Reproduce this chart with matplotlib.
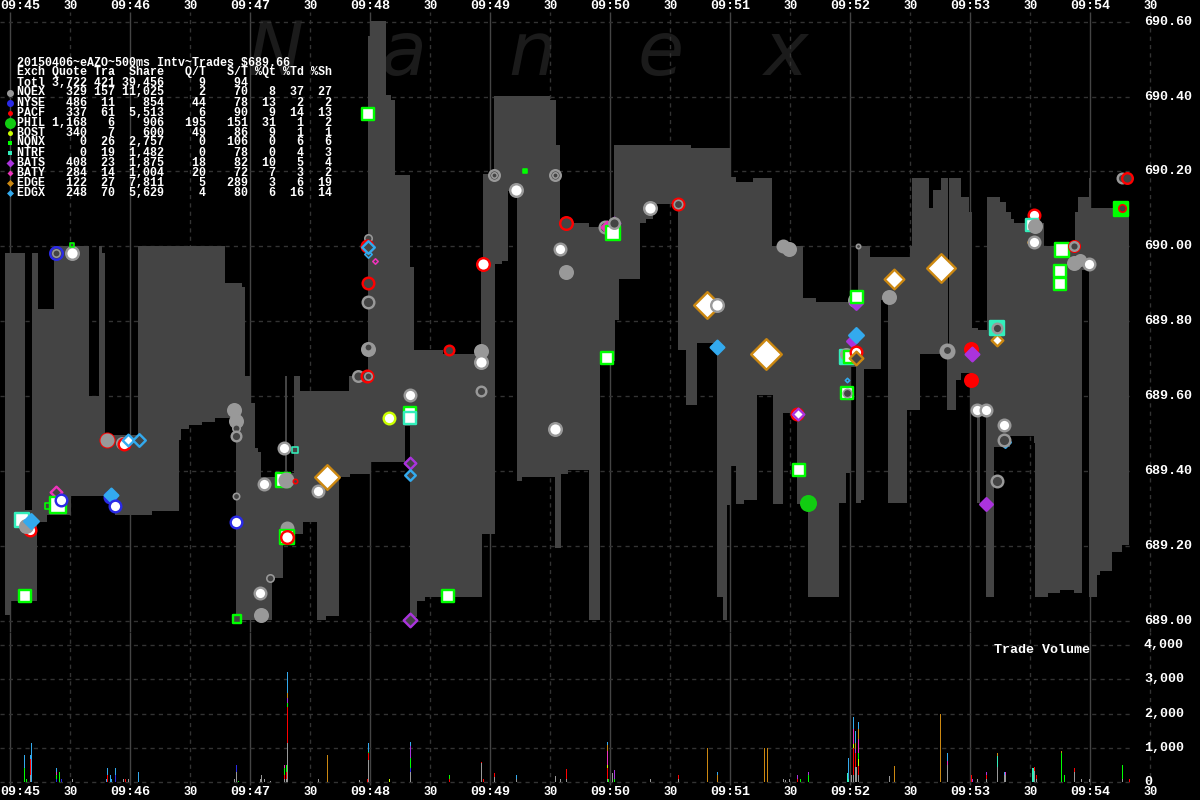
import matplotlib
matplotlib.use("Agg")
import numpy as np
import matplotlib.pyplot as plt

# --- inside quote, seconds after 09:45 ---
ask_sec = [-2.5, 7.5, 11, 14, 22, 39.5, 44.5, 46, 47.5, 64, 107.5, 116, 117.5, 120.5, 122.5, 124, 125.5,
           137.5, 138.5, 142, 145, 169.5, 179, 180, 188, 190.5, 192.5, 200, 202, 216.5, 235.5, 236.5,
           242, 270, 273, 275, 289.5, 300, 302, 340.5, 360.5, 363, 371.5, 381, 396.5, 403, 420, 424,
           430, 450, 451, 459.5, 461.5, 465.5, 469, 469.5, 475.5, 479.5, 481, 484, 488.5, 495, 498,
           500.5, 502, 517, 532.5, 534, 539.5, 540.5, 559.5]
ask_px = [689.983, 689.296, 689.983, 689.833, 690.001, 689.601, 690.001, 689.983, 689.496, 690.001,
          689.903, 689.892, 689.655, 689.582, 689.461, 689.452, 689.385, 689.655, 689.395, 689.655,
          689.614, 689.655, 690.562, 690.601, 690.405, 690.391, 690.19, 689.945, 689.723, 689.713,
          689.953, 690.192, 690.402, 690.391, 690.271, 690.063, 690.053, 690.03, 690.271, 690.264,
          690.184, 690.173, 690.183, 690.001, 689.863, 689.851, 689.884, 690.001, 689.972, 690.001,
          690.183, 690.103, 690.151, 690.183, 689.723, 690.183, 690.133, 690.093, 689.783, 689.777,
          690.133, 690.119, 690.093, 690.073, 690.063, 690.001, 690.093, 690.133, 690.183, 690.103, 690.103]

bid_sec = [-2.5, 0.5, 13.5, 18.5, 30.5, 52.5, 71, 84.5, 85.5, 89.5, 96, 102.5, 113, 131, 136.5, 146.5,
           153.5, 158, 164.5, 170, 180.5, 197.5, 200, 203.5, 207.5, 236, 242.5, 246, 249, 253.5, 256,
           272.5, 275.5, 279, 289.5, 295, 302.5, 304.5, 315, 318, 321.5, 334, 338, 343.5, 353.5, 356.5,
           358.5, 360, 363, 367, 373.5, 381.5, 386.5, 393.5, 399, 414.5, 418, 420, 423, 425.5, 427,
           435.5, 439, 448.5, 455, 468.5, 473, 475.5, 480, 483.5, 485, 488, 492, 500, 512, 512.5, 519,
           525, 532, 536, 539.5, 543.5, 545, 551, 556, 559.5]
bid_px = [689.015, 689.053, 689.265, 689.282, 689.334, 689.282, 689.293, 689.483, 689.512, 689.523,
          689.532, 689.541, 689.002, 689.114, 689.232, 689.264, 689.002, 689.013, 689.385, 689.392,
          689.424, 689.521, 689.01, 689.053, 689.063, 689.231, 689.953, 689.961, 690.149, 689.373,
          689.384, 689.194, 689.393, 689.403, 689.002, 689.695, 689.803, 689.913, 690.063, 690.074,
          690.113, 689.723, 689.575, 689.742, 689.063, 689.002, 689.31, 689.413, 689.312, 689.322,
          689.603, 689.312, 689.555, 689.312, 689.064, 689.314, 689.395, 689.679, 689.314, 689.322,
          689.673, 689.857, 689.314, 689.563, 689.713, 689.563, 689.643, 689.662, 689.563, 689.314,
          689.555, 689.064, 689.465, 689.493, 689.475, 689.064, 689.074, 689.082, 689.074, 689.937,
          689.064, 689.122, 689.134, 689.184, 689.202, 689.202]

# --- trades: time, price, exchange, size, kind (w=white, h=hollow, c=solid) ---
mark_sec = [22.85, 22.85, 30.85, 30.85, 48.35, 48.35, 55.85, 56.85, 58.85, 64.35,
            22.85, 18.85, 23.85, 25.35, 49.85, 50.35, 52.35, 5.85, 9.85, 7.85,
            10.35, 7.35, 111.85, 112.85, 112.85, 112.85, 112.85, 112.85, 136.85, 142.35,
            136.35, 137.85, 142.35, 126.85, 153.85, 158.35, 138.35, 138.35, 138.35, 129.85,
            124.85, 125.35, 113.35, 178.85, 178.35, 178.85, 178.85, 182.1, 178.85, 178.85,
            178.85, 178.85, 173.85, 178.35, 178.85, 189.35, 178.85, 241.85, 241.85, 257.35,
            272.35, 272.35, 252.85, 277.85, 297.35, 298.35, 301.85, 301.35, 301.85, 319.85,
            333.85, 333.85, 274.85, 277.85, 236.35, 386.35, 389.35, 348.35, 353.35, 353.35,
            377.85, 298.35, 219.35, 235.35, 235.35, 235.35, 199.85, 199.85, 199.85, 199.85,
            199.85, 272.35, 218.85, 199.85, 393.35, 393.85, 394.35, 423.85, 422.35, 422.85,
            423.35, 439.35, 441.85, 465.35, 420.85, 422.85, 418.35, 417.85, 419.85, 422.85,
            422.85, 418.35, 418.35, 418.35, 398.85, 468.35, 468.35, 480.35, 480.85, 480.35,
            483.35, 487.85, 496.85, 497.35, 496.85, 493.35, 487.85, 493.35, 493.35, 493.35,
            511.85, 510.85, 512.35, 511.35, 511.85, 525.85, 531.85, 531.85, 531.85, 534.85,
            539.35, 524.85, 524.85, 555.85, 558.35, 555.35, 555.85]
mark_price = [689.982, 689.982, 689.982, 690.004, 689.483, 689.483, 689.475, 689.472, 689.483, 689.483,
              689.344, 689.306, 689.309, 689.322, 689.331, 689.336, 689.306, 689.269, 689.242, 689.253,
              689.266, 689.066, 689.563, 689.533, 689.515, 689.493, 689.333, 689.264, 689.461, 689.456,
              689.376, 689.376, 689.373, 689.365, 689.346, 689.384, 689.248, 689.224, 689.224, 689.114,
              689.074, 689.015, 689.004, 690.022, 690.001, 689.98, 689.998, 689.961, 689.902, 689.851,
              689.726, 689.731, 689.654, 689.654, 689.654, 689.542, 690.354, 690.191, 690.191, 690.201,
              690.191, 690.191, 690.151, 690.063, 690.052, 690.052, 690.063, 690.036, 690.063, 690.103,
              690.113, 690.113, 689.993, 689.932, 689.953, 690.001, 689.993, 689.843, 689.843, 689.731,
              689.712, 689.702, 689.723, 689.72, 689.691, 689.614, 689.603, 689.555, 689.542, 689.421,
              689.389, 689.512, 689.066, 689.002, 689.552, 689.552, 689.403, 690.001, 689.856, 689.849,
              689.865, 689.865, 689.913, 689.942, 689.747, 689.763, 689.704, 689.712, 689.704, 689.718,
              689.702, 689.643, 689.608, 689.608, 689.314, 689.72, 689.723, 689.726, 689.712, 689.643,
              689.563, 689.563, 689.523, 689.477, 689.483, 689.373, 689.312, 689.75, 689.782, 689.782,
              690.084, 690.057, 690.055, 690.012, 690.012, 689.99, 690.001, 690.001, 689.956, 689.964,
              689.953, 689.934, 689.9, 690.183, 690.183, 690.1, 690.103]
mark_exch = ["NYSE", "NQEX", "NQEX", "NQNX", "PACF", "NQEX", "NQEX", "PACF", "EDGX", "EDGX",
             "BATY", "NQNX", "NQNX", "NYSE", "NYSE", "EDGX", "NYSE", "NTRF", "PACF", "NQEX",
             "EDGX", "NQNX", "NQEX", "NQEX", "NQEX", "NQEX", "NQEX", "NYSE", "NQEX", "NTRF",
             "NQNX", "NQEX", "PACF", "NQEX", "NQEX", "EDGE", "NQEX", "NQNX", "PACF", "NQEX",
             "NQEX", "NQEX", "NQNX", "NQEX", "PACF", "EDGX", "EDGX", "BATY", "PACF", "NQEX",
             "NQEX", "NQEX", "NQEX", "PACF", "NQEX", "BOST", "NQNX", "NQEX", "NQEX", "NQNX",
             "NQEX", "NQEX", "NQEX", "PACF", "NQEX", "BATY", "BATS", "NQNX", "NQEX", "NQEX",
             "PACF", "NQEX", "NQEX", "NQEX", "PACF", "NQEX", "NQEX", "EDGE", "NQEX", "EDGX",
             "EDGE", "NQNX", "PACF", "NQEX", "NQEX", "NQEX", "NQEX", "NQNX", "NTRF", "BATS",
             "EDGX", "NQEX", "NQNX", "BATS", "PACF", "BATS", "NQNX", "NQEX", "NQEX", "BATS",
             "NQNX", "NQEX", "EDGE", "EDGE", "BATS", "EDGX", "NTRF", "NQEX", "NQNX", "PACF",
             "EDGE", "EDGX", "NQNX", "NQEX", "PHIL", "NQEX", "NQEX", "PACF", "BATS", "PACF",
             "NQEX", "NQEX", "NQEX", "EDGX", "NQEX", "NQEX", "BATS", "EDGE", "NTRF", "NQEX",
             "PACF", "NTRF", "NQEX", "EDGE", "NQEX", "NQNX", "PACF", "NQEX", "NQEX", "NQEX",
             "NQEX", "NQNX", "NQNX", "NQEX", "PACF", "NQNX", "PACF"]
mark_shares = [196, 64, 196, 25, 225, 169, 144, 169, 169, 196,
               169, 36, 324, 169, 169, 225, 169, 225, 169, 196,
               256, 196, 196, 196, 64, 121, 49, 169, 169, 36,
               225, 225, 25, 169, 169, 676, 169, 225, 196, 64,
               169, 196, 100, 64, 169, 64, 196, 36, 169, 169,
               196, 64, 144, 169, 64, 169, 196, 144, 36, 25,
               144, 36, 196, 196, 169, 169, 169, 225, 144, 196,
               169, 81, 169, 196, 196, 169, 196, 784, 196, 225,
               1024, 196, 121, 196, 196, 121, 169, 196, 196, 169,
               144, 196, 196, 225, 169, 169, 196, 25, 196, 196,
               196, 196, 441, 900, 144, 256, 225, 144, 196, 169,
               225, 25, 196, 81, 256, 225, 81, 196, 225, 196,
               169, 169, 169, 144, 169, 169, 196, 169, 225, 121,
               169, 169, 196, 144, 169, 225, 144, 100, 196, 144,
               169, 196, 196, 121, 144, 225, 64]
mark_kind = ["h", "h", "w", "h", "c", "c", "w", "w", "w", "h",
             "h", "h", "w", "w", "c", "c", "w", "w", "w", "c",
             "c", "w", "c", "c", "h", "h", "h", "w", "w", "h",
             "w", "c", "h", "w", "w", "w", "c", "w", "w", "h",
             "w", "c", "h", "h", "h", "h", "h", "h", "h", "h",
             "c", "h", "h", "h", "h", "w", "w", "h", "h", "c",
             "h", "h", "w", "h", "h", "c", "c", "w", "h", "w",
             "h", "h", "w", "c", "w", "c", "c", "w", "w", "c",
             "w", "w", "h", "c", "w", "h", "w", "w", "w", "h",
             "h", "w", "w", "h", "w", "w", "w", "h", "c", "c",
             "w", "c", "w", "w", "c", "c", "c", "c", "w", "w",
             "h", "h", "w", "h", "c", "c", "h", "c", "c", "c",
             "w", "w", "w", "c", "h", "h", "c", "w", "c", "h",
             "w", "w", "c", "h", "w", "w", "h", "h", "c", "c",
             "w", "w", "w", "h", "h", "c", "h"]

# --- volume per exchange, stacked in the order of exch_names ---
nqex_t = [10, 31, 56.5, 59, 112, 113, 125, 125.5, 127, 130, 137, 138, 138.5, 154, 174.5, 179, 200, 235.5, 242, 253,
          272.5, 275, 278, 298.5, 301, 320, 334, 386.5, 387.5, 389.5, 420.5, 421.5, 422.5, 423, 424, 439.5, 468.5,
          483.5, 488, 493.5, 497, 497.5, 512, 513, 532, 535.5, 539.5, 556]
nqex_v = [214, 100, 100, 100, 100, 300, 100, 200, 100, 20, 100, 100, 1138, 100, 50, 650, 300, 550, 150, 100,
          180, 100, 100, 100, 250, 100, 100, 100, 50, 100, 200, 200, 450, 450, 200, 180, 500,
          100, 100, 450, 200, 200, 330, 100, 300, 100, 100, 80]
nyse_t = [23, 25.5, 52.5, 113, 200]
nyse_v = [100, 100, 200, 200, 100]
pacf_t = [10, 48.5, 57.5, 137, 138, 138.5, 178.5, 179, 219.5, 235.5, 236.5, 242, 278, 298.5, 334, 393.5, 421.5,
          422.5, 424, 480.5, 488, 512, 513, 532, 559.5]
pacf_v = [457, 200, 100, 100, 200, 1050, 100, 200, 100, 30, 100, 120, 280, 300, 100, 100, 800,
          400, 260, 200, 100, 100, 100, 100, 100]
bost_t = [189.5, 298.5, 421.5, 424]
bost_v = [100, 100, 100, 200]
nqnx_t = [7, 8, 23, 24.5, 114, 137, 138, 138.5, 179, 200, 219.5, 299, 302, 395, 399, 424, 525.5, 527, 556]
nqnx_v = [400, 100, 100, 300, 30, 200, 200, 120, 30, 300, 100, 100, 100, 100, 200, 200, 850, 200, 420]
ntrf_t = [418.5, 419, 493.5, 511, 511.5]
ntrf_v = [270, 100, 300, 400, 400]
bats_t = [138.5, 200, 302, 393.5, 399, 422.5, 481, 488]
bats_v = [150, 340, 260, 100, 100, 100, 100, 100]
baty_t = [23, 137, 298.5, 421.5, 424, 468.5, 497.5]
baty_v = [100, 100, 400, 450, 400, 100, 100]
edge_t = [138.5, 158.5, 298.5, 348.5, 353.5, 377, 378.5, 422.5, 424, 442, 465, 493.5, 525.5]
edge_v = [150, 800, 170, 1000, 200, 1000, 1000, 200, 300, 470, 2000, 100, 50]
edgx_t = [7, 10, 10.5, 23, 48, 48.5, 50, 50.5, 52.5, 64, 138.5, 179, 200, 253, 298.5, 353.5, 419, 421.5, 422.5,
          424, 468.5, 497]
edgx_v = [400, 126, 1148, 118, 100, 200, 200, 100, 200, 300, 590, 270, 130, 100, 107, 100, 600, 350, 350,
          200, 250, 100]

# --- exchange summary table ---
exch_names = ["NQEX", "NYSE", "PACF", "PHIL", "BOST", "NQNX", "NTRF", "BATS", "BATY", "EDGE", "EDGX"]
exch_quote = ["329", "486", "337", "1,168", "340", "0", "0", "408", "284", "122", "248"]
exch_trades = ["157", "11", "61", "6", "7", "26", "19", "23", "14", "27", "70"]
exch_shares = ["11,025", "854", "5,513", "906", "600", "2,757", "1,482", "1,875", "1,004", "7,811", "5,629"]
exch_qt = [2, 44, 6, 195, 49, 0, 0, 18, 20, 5, 4]
exch_st = [70, 78, 90, 151, 86, 106, 78, 82, 72, 289, 80]
exch_pct_q = [8, 13, 9, 31, 9, 0, 0, 10, 7, 3, 6]
exch_pct_t = [37, 2, 14, 1, 1, 6, 4, 5, 3, 6, 16]
exch_pct_s = [27, 2, 13, 2, 1, 6, 3, 4, 2, 19, 14]

price_ticks = [689.0, 689.2, 689.4, 689.6, 689.8, 690.0, 690.2, 690.4, 690.6]
vol_ticks = [0, 1000, 2000, 3000, 4000]
minute_labels = ["09:45", "09:46", "09:47", "09:48", "09:49", "09:50", "09:51", "09:52", "09:53", "09:54"]

# styling
exch_color = {"NQEX": "#999999", "NYSE": "#2a2ae6", "PACF": "#ff0000", "PHIL": "#11cc11", "BOST": "#ccff00",
              "NQNX": "#00ff00", "NTRF": "#33eebb", "BATS": "#aa33dd", "BATY": "#ee33bb", "EDGE": "#cc8811",
              "EDGX": "#33aaee"}
exch_marker = {"NQEX": "o", "NYSE": "o", "PACF": "o", "PHIL": "o", "BOST": "o", "NQNX": "s", "NTRF": "s",
               "BATS": "D", "BATY": "D", "EDGE": "D", "EDGX": "D"}
legend_diam = [7, 7, 5, 11, 5, 5, 5, 8, 6, 7, 7]
BAND = "#444444"
DASH = "#333333"
MONO = "Liberation Mono"

fig = plt.figure(figsize=(12, 8), dpi=100, facecolor="black")
ax = fig.add_axes([0, 168 / 800, 1, 632 / 800])
vol = fig.add_axes([0, 0, 1, 168 / 800])
x_range = (-5.15, 594.85)
for a in (ax, vol):
    a.set_facecolor("black")
    a.set_xlim(*x_range)
    a.axis("off")
ax.set_ylim(688.970, 690.658)
vol.set_ylim(-526, 4380)

# grid, under the band
minute_secs = np.arange(len(minute_labels)) * 60
half_secs = minute_secs + 30
ax.vlines(minute_secs, 688.97, 690.625, color=BAND, lw=1, zorder=1)
vol.vlines(minute_secs, -90, 4380, color=BAND, lw=1, zorder=1)
ax.vlines(half_secs, 688.97, 690.625, color=DASH, lw=1, ls=(0, (3, 3)), zorder=1)
vol.vlines(half_secs, -90, 4380, color=DASH, lw=1, ls=(0, (3, 3)), zorder=1)
ax.hlines(price_ticks, x_range[0], 560, color=DASH, lw=1, ls=(0, (3, 3)), zorder=1)
vol.hlines(vol_ticks, x_range[0], 560, color=DASH, lw=1, ls=(0, (3, 3)), zorder=1)

# watermark
for lx, ch in zip([133, 197, 261, 325, 388], "Nanex"):
    ax.text(lx, 690.515, ch, color="#1b1b1b", fontsize=54, style="italic", family="DejaVu Sans",
            ha="center", va="center", zorder=0.5)

# quote band
all_sec = np.unique(np.r_[ask_sec, bid_sec])
ask_i = np.searchsorted(ask_sec, all_sec, side="right") - 1
bid_i = np.searchsorted(bid_sec, all_sec, side="right") - 1
ax.fill_between(all_sec, np.array(bid_px)[bid_i], np.array(ask_px)[ask_i], step="post",
                color=BAND, lw=0, antialiased=False, zorder=2)

# trades
rows = zip(mark_sec, mark_price, mark_exch, mark_shares, mark_kind, strict=True)
for i, (t, p, ex, sh, kind) in enumerate(rows):
    col = exch_color[ex]
    m = exch_marker[ex]
    d = np.sqrt(sh)
    lw_px = 2.4 if d >= 10 else 1.6
    side = max(d - lw_px + 1, 1.5) * 0.72
    size = side ** 2 * (0.5 if m == "D" else 1)
    face = {"w": "white", "h": BAND, "c": col}[kind]
    ax.scatter([t], [p], s=size, marker=m, facecolor=face, edgecolor=col, linewidths=lw_px * 0.72,
               zorder=3 + i * 0.001)

# volume stacks
stack = [("NQEX", nqex_t, nqex_v), ("NYSE", nyse_t, nyse_v), ("PACF", pacf_t, pacf_v), ("BOST", bost_t, bost_v),
         ("NQNX", nqnx_t, nqnx_v), ("NTRF", ntrf_t, ntrf_v), ("BATS", bats_t, bats_v), ("BATY", baty_t, baty_v),
         ("EDGE", edge_t, edge_v), ("EDGX", edgx_t, edgx_v)]
tops = {}
for ex, ts, vs in stack:
    for t, v in zip(ts, vs, strict=True):
        base = tops.get(t, 0)
        vol.bar(t, v, bottom=base, width=0.5, color=exch_color[ex], lw=0, antialiased=False, zorder=3)
        tops[t] = base + v

# axis labels
for ypos in (6, 792):
    fy = 1 - ypos / 800
    for k, lab in enumerate(minute_labels):
        px = 10.3 + minute_secs[k] * 2
        if k == 0:
            fig.text(0, fy, lab, color="white", family=MONO, fontsize=9.6, fontweight="bold", ha="left", va="center")
        else:
            fig.text(px / 1200, fy, lab, color="white", family=MONO, fontsize=9.6, fontweight="bold",
                     ha="center", va="center")
        fig.text((px + 60) / 1200, fy, "30", color="white", family=MONO, fontsize=8.6, fontweight="bold",
                 ha="center", va="center")

for p in price_ticks:
    ax.text(1144 / 1200, p, f"{p:.2f}", color="white", family=MONO, fontsize=9.6, fontweight="bold",
            transform=ax.get_yaxis_transform(), ha="left", va="center")
for v in vol_ticks:
    vol.text(1144 / 1200, v, f"{v:,}", color="white", family=MONO, fontsize=9.6, fontweight="bold",
             transform=vol.get_yaxis_transform(), ha="left", va="center")
fig.text(994 / 1200, 1 - 650 / 800, "Trade Volume", color="white", family=MONO, fontsize=9.6,
         fontweight="bold", ha="left", va="center")

# summary table, monospaced so the columns line up
def table_line(name, quote, tra, share, qt, st, pq="", pt="", ps=""):
    return f"{name:<4}{quote:>6}{tra:>4}{share:>7}{qt:>6}{st:>6}{pq:>4}{pt:>4}{ps:>4}"

table_rows = ["20150406~eAZO~500ms Intv~Trades $689.66",
              table_line("Exch", "Quote", "Tra", "Share", "Q/T", "S/T", "%Qt", "%Td", "%Sh"),
              table_line("Totl", "3,722", "421", "39,456", "9", "94")]
for k, name in enumerate(exch_names):
    table_rows.append(table_line(name, exch_quote[k], exch_trades[k], exch_shares[k], exch_qt[k], exch_st[k],
                                 exch_pct_q[k], exch_pct_t[k], exch_pct_s[k]))
for k, line in enumerate(table_rows):
    fig.text(17 / 1200, 1 - (62.5 + 10 * k) / 800, line, color="white", family=MONO, fontsize=8.4,
             fontweight="bold", ha="left", va="center", parse_math=False, zorder=10)
for k, name in enumerate(exch_names):
    d = legend_diam[k] * 0.72
    m = exch_marker[name]
    ax.scatter([9.5 / 1200], [1 - (92.5 + 10 * k) / 800], s=d ** 2 * (0.5 if m == "D" else 1), marker=m,
               color=exch_color[name], lw=0, transform=fig.transFigure, clip_on=False, zorder=10)

fig.savefig("out.png", dpi=100, facecolor="black")
